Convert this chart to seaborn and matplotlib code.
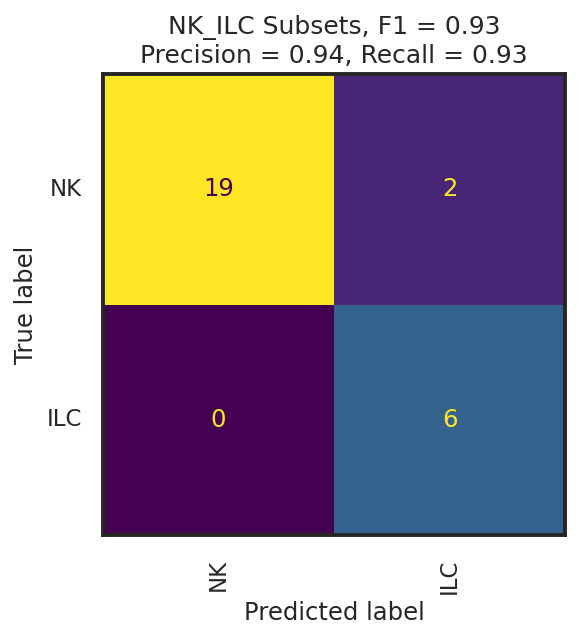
import numpy as np
import matplotlib
matplotlib.use("Agg")
import matplotlib.pyplot as plt
import seaborn as sns

#? Confusion matrix data
labels = ["NK", "ILC"]
row_nk = [19, 2]
row_ilc = [0, 6]
f1, precision, recall = 0.93, 0.94, 0.93

cm = np.array([row_nk, row_ilc])

sns.set_theme(style="white", font_scale=1.0)
plt.rcParams["font.family"] = ["DejaVu Sans"]

fig = plt.figure(figsize=(5.79, 6.39), dpi=100)
ax = fig.add_axes([103 / 579, 1 - 535 / 639, 462 / 579, 461 / 639])

cmap = plt.get_cmap("viridis")
sns.heatmap(cm, cmap=cmap, vmin=cm.min(), vmax=cm.max(), cbar=False,
            square=False, ax=ax, annot=False)

#? Annotations like sklearn: light text on dark cells, dark on bright
thresh = (cm.max() + cm.min()) / 2.0
for i in range(cm.shape[0]):
    for j in range(cm.shape[1]):
        col = cmap(0) if cm[i, j] > thresh else cmap(1.0)
        ax.text(j + 0.5, i + 0.5, str(cm[i, j]), ha="center", va="center",
                color=col, fontsize=17.5)

ax.set_xticks(np.arange(len(labels)) + 0.5)
ax.set_yticks(np.arange(len(labels)) + 0.5)
ax.set_xticklabels(labels, rotation=90, fontsize=16.5)
ax.set_yticklabels(labels, rotation=0, fontsize=16.5)
ax.tick_params(length=0)
ax.tick_params(axis="y", pad=15)
ax.tick_params(axis="x", pad=17)
ax.set_xlabel("Predicted label", fontsize=17.5, labelpad=5)
ax.set_ylabel("True label", fontsize=17.5, labelpad=6)
ax.set_title(f"NK_ILC Subsets, F1 = {f1:.2f}\nPrecision = {precision:.2f}, Recall = {recall:.2f}",
             fontsize=18, pad=8)

for s in ax.spines.values():
    s.set_visible(True)
    s.set_color("#262626")
    s.set_linewidth(2.8)

fig.savefig("out.png", dpi=100)
